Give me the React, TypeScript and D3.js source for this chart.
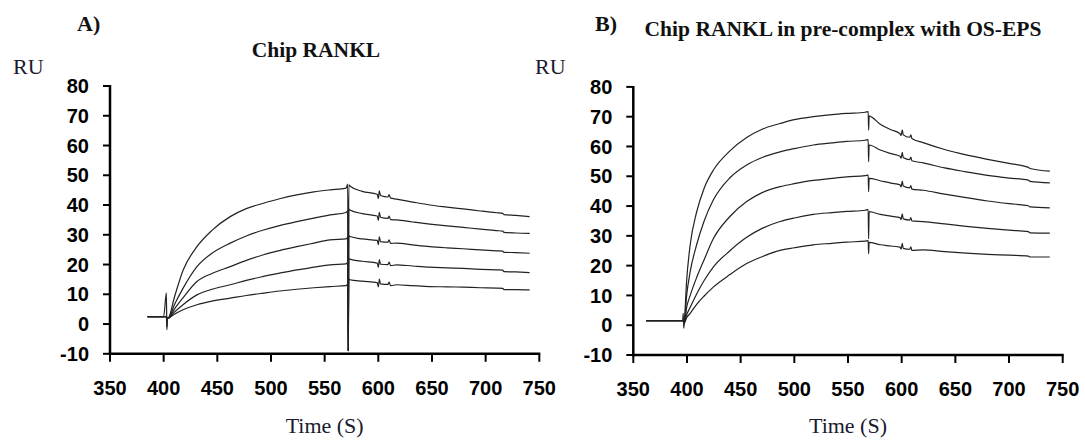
import React from 'react';
import * as d3 from 'd3';

const xTicks = [350, 400, 450, 500, 550, 600, 650, 700, 750];
const yTicks = [-10, 0, 10, 20, 30, 40, 50, 60, 70, 80];

// Panel A: Chip RANKL
const aTimes = [385, 400, 402.5, 403, 403.5, 404.5, 410, 418, 431, 445, 462, 477, 493, 508, 524, 540, 555, 570, 571.5, 572, 572.5, 573.5, 585, 599, 600, 601, 602, 609, 610, 611.5, 617, 632, 648, 664, 679, 695, 710, 716, 717, 728, 741];
const aCurve1 = [2.5, 2.5, 10.5, -1.9, 1.8, 2.0, 9, 18, 26, 31.5, 36.1, 38.8, 40.6, 42.1, 43.4, 44.4, 45.1, 45.7, 47, -9, 46.8, 46.4, 44.6, 43.6, 42.2, 44.8, 43.2, 42.7, 43.5, 42.3, 42, 41, 40, 39.3, 38.7, 38, 37.4, 37.2, 36.8, 36.5, 36.1];
const aCurve2 = [2.5, 2.5, 2.5, -1.0, 1.8, 2.0, 6.5, 12, 19.3, 23.8, 27.2, 29.6, 31.6, 33.1, 34.4, 35.6, 36.7, 37.5, 38, -9, 38.6, 38.3, 37.1, 36.3, 34.9, 37.5, 35.9, 35.5, 36.3, 35.1, 35, 34.3, 33.6, 33, 32.5, 31.9, 31.4, 31.2, 30.8, 30.6, 30.5];
const aCurve3 = [2.5, 2.5, 2.5, 2.2, 1.9, 2.0, 5, 8.8, 14.3, 17, 19.3, 21.4, 23.3, 24.7, 26, 27.2, 28.3, 28.6, 29.1, -9, 29.7, 29.4, 28.6, 28.1, 26.7, 29.3, 27.7, 27.5, 28.3, 27.1, 27.2, 26.6, 26, 25.6, 25.3, 24.9, 24.6, 24.5, 24.1, 24, 23.8];
const aCurve4 = [2.5, 2.5, 2.5, 2.2, 1.9, 2.0, 4, 6.5, 9.8, 11.7, 13.2, 14.7, 16, 17.1, 18.2, 19.1, 19.9, 20.2, 20.7, -9, 22, 21.8, 21.1, 20.5, 19.1, 21.7, 20.1, 20, 20.8, 19.6, 19.9, 19.5, 19.1, 18.9, 18.7, 18.4, 18.2, 18.1, 17.6, 17.5, 17.3];
const aCurve5 = [2.5, 2.5, 2.5, 2.2, 1.9, 2.0, 3.3, 4.8, 6.5, 7.7, 8.7, 9.6, 10.4, 11.1, 11.7, 12.2, 12.6, 12.9, 13.4, -9, 15.1, 14.9, 14.4, 13.9, 12.5, 15.1, 13.5, 13.3, 14.1, 12.9, 13.2, 12.9, 12.6, 12.5, 12.4, 12.2, 12.1, 12, 11.6, 11.6, 11.5];

// Panel B: Chip RANKL in pre-complex with OS-EPS
const bTimes = [362, 396, 396.5, 397, 397.5, 399.7, 403, 409, 416, 424.5, 440, 455.6, 470, 486.7, 500, 517.7, 535, 548.8, 566, 568.8, 569.2, 569.7, 580, 590, 598.5, 599.5, 600.5, 601.5, 607.5, 608.5, 609.5, 620, 640, 660, 680, 700, 718, 719.5, 738];
const bCurve1 = [1.5, 1.5, 4, -1, 0.8, 15, 27, 38, 46, 52, 58.5, 63, 65.8, 67.7, 69, 70, 70.7, 71.1, 71.5, 71.7, 65.5, 70.2, 67.5, 65.6, 64.3, 63.6, 65.6, 63.9, 63.1, 63.9, 62.7, 61.3, 59, 57.2, 55.7, 54.3, 53.0, 52.6, 51.7];
const bCurve2 = [1.5, 1.5, 1.5, 1, 0.8, 10, 18, 27, 35, 42, 49.5, 53.8, 56.3, 58.2, 59.3, 60.5, 61.2, 61.7, 62.1, 62.3, 54.9, 60.5, 58.8, 57.6, 56.7, 56, 58, 56.3, 55.6, 56.4, 55.2, 54.5, 52.8, 51.5, 50.3, 49.4, 48.7, 48.3, 47.8];
const bCurve3 = [1.5, 1.5, 1.5, 1, 0.8, 6, 10, 16, 22, 29, 36.5, 41.5, 44.5, 46.5, 47.5, 48.6, 49.3, 49.8, 50.2, 50.4, 44.8, 49.3, 48.5, 47.7, 47.1, 46.4, 48.4, 46.7, 46.1, 46.9, 45.7, 45.3, 44, 42.8, 41.7, 40.8, 40.1, 39.7, 39.4];
const bCurve4 = [1.5, 1.5, 1.5, 1, 0.8, 3.5, 6, 10.5, 15, 19.5, 25, 29.5, 32.5, 34.8, 36, 37.2, 37.8, 38.2, 38.6, 38.8, 29, 38.1, 37.2, 36.6, 36.1, 35.4, 37.4, 35.7, 35.3, 36.1, 35.0, 34.8, 34, 33.2, 32.5, 31.9, 31.4, 31.0, 30.9];
const bCurve5 = [1.5, 1.5, 1.5, 1, 0.8, 2.5, 4, 7, 9.8, 12.8, 17, 20.7, 23, 25.1, 26, 27, 27.5, 27.9, 28.2, 28.4, 24, 27.8, 27, 26.6, 26.2, 25.5, 27.5, 25.8, 25.5, 26.3, 25.1, 25.3, 24.7, 24.2, 23.8, 23.5, 23.2, 22.9, 22.9];

const serif = '"Liberation Serif", "Times New Roman", serif';
const sans = '"Liberation Sans", Arial, sans-serif';

type PanelProps = {
  times: number[];
  series: number[][];
  xr: [number, number];
  yr: [number, number];
  label: string;
  labelX: number;
  title: string;
  titleX: number;
  titleY: number;
  ruX: number;
};

function Panel({ times, series, xr, yr, label, labelX, title, titleX, titleY, ruX }: PanelProps) {
  const x = d3.scaleLinear().domain([350, 750]).range(xr);
  const y = d3.scaleLinear().domain([-10, 80]).range(yr);
  const line = d3
    .line<number>()
    .x((_, i) => x(times[i]))
    .y((d) => y(d))
    .curve(d3.curveMonotoneX);
  const x0 = xr[0];
  const yAxis = yr[0];
  return (
    <g>
      <text x={labelX} y={31} fontFamily={serif} fontWeight="bold" fontSize={22} fill="#111">{label}</text>
      <text x={ruX} y={74} fontFamily={serif} fontSize={22} fill="#1a1a2e">RU</text>
      <text x={titleX} y={titleY} textAnchor="middle" fontFamily={serif} fontWeight="bold" fontSize={21.5} fill="#111">{title}</text>
      {series.map((s, k) => (
        <path key={k} d={line(s) || ''} fill="none" stroke="#222" strokeWidth={1.2} strokeLinejoin="round" />
      ))}
      <line x1={x0} x2={x0} y1={y(80) - 1} y2={yAxis + 1.2} stroke="#000" strokeWidth={2.5} />
      <line x1={x0 - 1.2} x2={xr[1] + 1} y1={yAxis} y2={yAxis} stroke="#000" strokeWidth={2.5} />
      {yTicks.map((t) => (
        <g key={'y' + t}>
          <line x1={x0 - 7} x2={x0} y1={y(t)} y2={y(t)} stroke="#000" strokeWidth={2} />
          <text x={x0 - 21} y={y(t)} dy="0.36em" textAnchor="end" fontFamily={sans} fontWeight="bold" fontSize={20} fill="#000">{t}</text>
        </g>
      ))}
      {xTicks.map((t) => (
        <g key={'x' + t}>
          <line x1={x(t)} x2={x(t)} y1={yAxis} y2={yAxis + 8} stroke="#000" strokeWidth={2} />
          <text x={x(t)} y={yAxis + 27} dy="0.71em" textAnchor="middle" fontFamily={sans} fontWeight="bold" fontSize={20} fill="#000">{t}</text>
        </g>
      ))}
      <text x={(xr[0] + xr[1]) / 2} y={433} textAnchor="middle" fontFamily={serif} fontSize={22} fill="#1a1a2e">Time (S)</text>
    </g>
  );
}

export default function App() {
  return (
    <svg width={1085} height={441} style={{ position: 'absolute', left: 0, top: 0, background: '#fff' }}>
      <rect x={0} y={0} width={1085} height={441} fill="#fff" />
      <Panel
        times={aTimes}
        series={[aCurve1, aCurve2, aCurve3, aCurve4, aCurve5]}
        xr={[110, 539.3]}
        yr={[353.8, 86]}
        label="A)"
        labelX={77}
        title="Chip RANKL"
        titleX={316}
        titleY={57}
        ruX={13}
      />
      <Panel
        times={bTimes}
        series={[bCurve1, bCurve2, bCurve3, bCurve4, bCurve5]}
        xr={[633.3, 1062.7]}
        yr={[355, 86.9]}
        label="B)"
        labelX={595}
        title="Chip RANKL in pre-complex with OS-EPS"
        titleX={843}
        titleY={36}
        ruX={535}
      />
    </svg>
  );
}
